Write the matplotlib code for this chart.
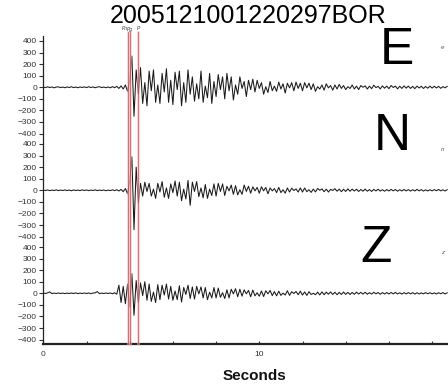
import numpy as np
import matplotlib
matplotlib.use("Agg")
import matplotlib.pyplot as plt

plt.rcParams['font.family'] = ['Liberation Sans', 'DejaVu Sans']

title = "2005121001220297BOR"
dt = 0.1  # sample interval (s)

east = [
    2, -3, 4, -2, 3, -5, 2, 4, -3, 2,
    -4, 3, -2, 5, -3, 2, -4, 3, -2, 4,
    -3, 5, -2, 3, -4, 2, 5, -3, 2, -4,
    3, -5, 6, -4, 8, -10, 12, -15, 20, -35,
    60, 270, -250, 150, -60, 170, -140, 40, -160, 140,
    -30, 150, -130, 20, -140, 120, -40, 160, -130, 60,
    -150, 130, -20, 140, -160, 40, -130, 150, -60, 90,
    -120, 30, -100, 140, -130, 10, -90, 120, -140, 50,
    -80, 110, -20, 90, -100, 120, -30, 90, -110, 20,
    -60, 90, -10, 50, -80, 60, -20, 70, -40, 60,
    -10, 40, -60, 5, -45, 50, -30, 10, -35, 45,
    -15, 30, -50, 35, -5, 40, -30, 45, -10, 35,
    -30, 40, -5, 35, -20, 30, -35, 5, -15, 20,
    -25, 30, -5, 15, -25, 20, -15, 25, -10, 15,
    -20, 5, -10, 20, -15, 10, -20, 15, 0, 12,
    -15, 10, -12, 18, -3, 8, -14, 12, -8, 10,
    -12, 15, -2, 10, -14, 9, -10, 12, -7, 10,
    -10, 8, -12, 10, -6, 9, -10, 7, -8, 10,
    -7, 9, -6, 8, -9, 6, -5, 8,
]
north = [
    2, -2, 3, -3, 2, -2, 4, -3, 2, -2,
    3, -2, 2, -4, 3, -2, 2, -3, 4, -2,
    3, -3, 2, -2, 4, -3, 2, -2, 3, -4,
    2, -3, 4, -3, 5, -6, 8, -12, 15, -30,
    80, 290, -340, 200, -110, 60, -50, 70, -10, 60,
    -50, 10, -70, 60, -15, 75, -60, 20, -70, 55,
    -20, 80, -50, 70, -90, 10, -75, 85, -130, 70,
    -10, 75, -55, 20, -65, 50, -70, 10, -45, 55,
    -50, 60, -10, 55, -45, 35, -5, 45, -35, 40,
    -40, 5, -35, 45, -10, 35, -25, 30, -5, 25,
    -25, 30, -5, 25, -30, 20, -5, 15, -20, 25,
    -20, 5, -25, 20, -15, 18, -2, 12, -15, 20,
    -15, 20, -12, 5, -18, 10, -14, 16, 0, 12,
    -12, 10, -15, 8, -2, 14, -8, 10, -12, 9,
    -10, 12, -8, 10, -6, 9, -10, 7, -8, 10,
    -8, 6, -10, 8, -6, 9, -7, 5, -8, 6,
    -6, 8, -5, 7, -8, 5, -6, 7, -5, 6,
    -7, 5, -6, 8, -5, 6, -7, 4, -6, 5,
    -5, 6, -4, 7, -5, 4, -6, 5,
]
vertical = [
    3, -2, 4, 12, -3, 2, -2, 3, -2, 2,
    -3, 2, -2, 3, -2, 4, -3, 2, -2, 3,
    -2, 3, -3, 2, 4, 15, -3, 2, -2, 3,
    -2, 3, -4, 5, -8, 70, -80, 60, -90, 80,
    -120, 170, -190, 110, -80, 90, -20, 100, -60, 80,
    -70, 10, -80, 75, -55, 70, -15, 80, -50, 60,
    -60, 20, -55, 65, -75, 50, -10, 70, -45, 55,
    -50, 60, -5, 55, -40, 50, -55, 10, -40, 50,
    -40, 45, -35, 5, -45, 30, -40, 35, -5, 40,
    -30, 35, -25, 30, -5, 25, -30, 28, -22, 5,
    -25, 20, -28, 22, -5, 25, -20, 15, -22, 18,
    -18, 2, -15, 22, -18, 14, -2, 16, -12, 18,
    -15, 12, -18, 14, -10, 0, -12, 10, -14, 12,
    -12, 10, -8, 12, -10, 9, -12, 8, -10, 11,
    -9, 8, -10, 7, -9, 10, -6, 8, -7, 9,
    -8, 6, -7, 9, -5, 7, -8, 6, -6, 7,
    -6, 7, -5, 8, -6, 5, -7, 6, -5, 6,
    -5, 6, -7, 5, -6, 4, -5, 6, -4, 5,
    -5, 4, -6, 5, -4, 6, -5, 4,
]
components = ["E", "N", "Z"]
small_labels = ["e", "n", "z"]
traces = [east, north, vertical]
phase_times = [3.91, 4.01, 4.40]
phase_names = ["Pn", "Pg", "P"]
ytick_values = [-400, -300, -200, -100, 0, 100, 200, 300, 400]
xtick_major = [0, 10]

spacing = 890
offsets = [2 * spacing, spacing, 0]

W, H = 448, 387
fig = plt.figure(figsize=(W / 100, H / 100), dpi=100)
left = 43.3 / W
bottom = (H - 344) / H
top = (H - 36) / H
ax = fig.add_axes([left, bottom, 1.0 - left, top - bottom])

for tr, off in zip(traces, offsets):
    t = np.arange(len(tr)) * dt
    ax.plot(t, np.array(tr) + off, color='#1a1a1a', lw=0.75, zorder=2)

for pt in phase_times:
    ax.axvline(pt, ymin=0, ymax=1.012, color='#f0b8b8', lw=2.0, alpha=0.6,
               zorder=3, clip_on=False)
    ax.axvline(pt, ymin=0, ymax=1.012, color='#c04040', lw=0.55, alpha=0.85,
               zorder=4, clip_on=False)

ax.set_xlim(0, (W - 43.3) / 21.6)
ax.set_ylim(-438, 2 * spacing + 443)

yt, yl = [], []
for off in offsets:
    for v in ytick_values:
        yt.append(off + v)
        yl.append("0" if v == 0 else (f"\u2212{abs(v)}" if v < 0 else str(v)))
ax.set_yticks(yt)
ax.set_yticklabels(yl)
ax.set_xticks(xtick_major)
ax.set_xticklabels([str(v) for v in xtick_major])
ax.set_xticks(np.arange(0, 19, 2), minor=True)

ax.tick_params(axis='y', direction='out', length=3, width=0.8, labelsize=6,
               colors='#333333', pad=1.5)
ax.tick_params(axis='x', which='both', direction='in', length=2.5, width=0.8,
               labelsize=6, colors='#333333', pad=5)

for s in ['top', 'right']:
    ax.spines[s].set_visible(False)
ax.spines['left'].set_linewidth(0.9)
ax.spines['left'].set_color('#222222')
ax.spines['bottom'].set_linewidth(1.6)
ax.spines['bottom'].set_color('#222222')

# phase labels
xpx = lambda s: 43.3 + s * 21.6
fig.text(xpx(phase_times[0]) / W, 1 - 29 / H, phase_names[0], fontsize=3.5,
         style='italic', ha='right', va='center', color='#333333')
fig.text(xpx(phase_times[1]) / W, 1 - 29 / H, phase_names[1], fontsize=3.5,
         style='italic', ha='center', va='center', color='#333333')
fig.text(xpx(phase_times[2]) / W, 1 - 29 / H, phase_names[2], fontsize=3.5,
         style='italic', ha='center', va='center', color='#333333')

# component labels
comp_pos = [(397, 50), (392, 136), (376, 248)]
for name, (x, y) in zip(components, comp_pos):
    fig.text(x / W, 1 - y / H, name, fontsize=37, ha='center', va='center',
             color='black')
small_pos = [(442.5, 47.5), (442.5, 149.5), (442.5, 252)]
for name, (x, y) in zip(small_labels, small_pos):
    fig.text(x / W, 1 - y / H, name, fontsize=4.5, ha='center', va='center',
             color='#555555', style='italic')

fig.text(248 / W, 1 - 16 / H, title, fontsize=18, ha='center', va='center',
         color='black')
fig.text(254 / W, 1 - 376 / H, "Seconds", fontsize=11, fontweight='bold',
         ha='center', va='center', color='#111111')

fig.savefig("out.png", dpi=100)
